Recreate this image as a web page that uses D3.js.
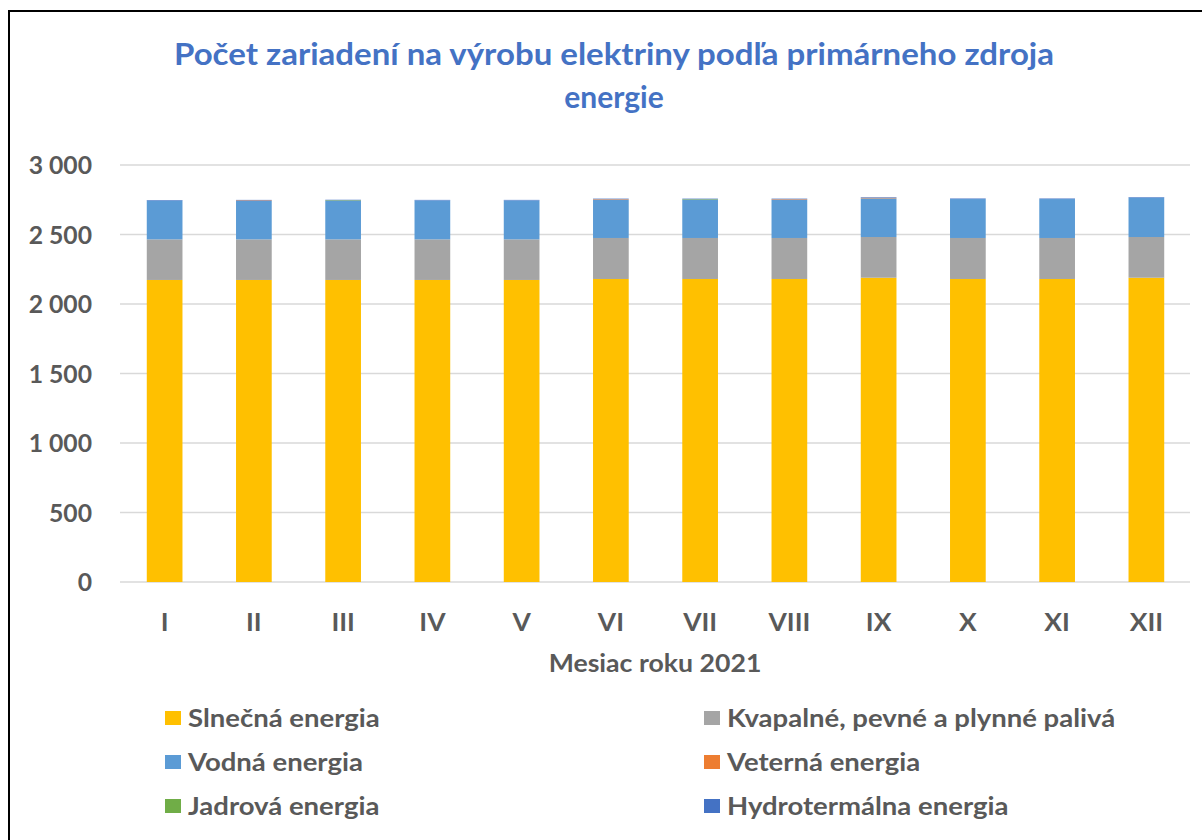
<!DOCTYPE html>
<html><head><meta charset="utf-8">
<script src="https://cdn.jsdelivr.net/npm/d3@7"></script>
<style>body{margin:0;background:#fff;}svg{display:block;}</style>
</head><body>
<svg id="c" width="1202" height="840"></svg>
<script>
const months = ["I","II","III","IV","V","VI","VII","VIII","IX","X","XI","XII"];
const seriesNames = ["Slnečná energia","Kvapalné, pevné a plynné palivá","Vodná energia","Veterná energia","Jadrová energia","Hydrotermálna energia"];
const solar = [2173,2173,2173,2173,2173,2180,2180,2180,2189,2180,2180,2189];
const fuels = [292,292,292,292,292,295,295,295,293,295,295,293];
const water = [279,276,277,280,280,275,275,275,278,280,280,283];
const wind = [0,4,0,0,0,4,0,4,4,0,0,0];
const nuclear = [0,0,4,0,0,0,4,0,0,0,0,0];
const hydrothermal = [4,4,4,4,4,4,4,4,4,4,4,4];
const yTicks = [0,500,1000,1500,2000,2500,3000];
const colors = ["#FFC000","#A5A5A5","#5B9BD5","#ED7D31","#70AD47","#4472C4"];

const svg = d3.select("#c");
const font = "Lato, 'Open Sans', sans-serif";
function stretch(sel, f){
  sel.each(function(){ const w=this.getComputedTextLength(); d3.select(this).attr("textLength", w*f).attr("lengthAdjust","spacingAndGlyphs"); });
}
svg.append("rect").attr("x",9).attr("y",11).attr("width",1210).attr("height",840).attr("fill","#fff").attr("stroke","#000").attr("stroke-width",2);

const x = d3.scaleBand().domain(months).range([120,1191]).paddingInner(0.6).paddingOuter(0.3);
const y = d3.scaleLinear().domain([0,3000]).range([582,165]);

svg.append("g").selectAll("line").data(yTicks).join("line")
  .attr("x1",120).attr("x2",1190).attr("y1",d=>y(d)).attr("y2",d=>y(d))
  .attr("stroke","#D9D9D9").attr("stroke-width",1.5);

const table = months.map((m,i)=>({m, s0:solar[i], s1:fuels[i], s2:water[i], s3:wind[i], s4:nuclear[i], s5:hydrothermal[i]}));
const stack = d3.stack().keys(["s0","s1","s2","s3","s4","s5"])(table);
svg.append("g").selectAll("g").data(stack).join("g").attr("fill",(d,i)=>colors[i])
  .selectAll("rect").data(d=>d).join("rect")
  .attr("x",d=>x(d.data.m)).attr("width",x.bandwidth())
  .attr("y",d=>y(d[1])).attr("height",d=>y(d[0])-y(d[1]));

const yAxis = svg.append("g").attr("transform","translate(100,0)")
  .call(d3.axisLeft(y).tickValues(yTicks).tickSize(0).tickFormat(d=>d3.format(",")(d).replace(/,/g," ")));
yAxis.select(".domain").remove();
yAxis.selectAll("text").attr("fill","#595959").attr("font-family",font).attr("font-weight","bold").attr("font-size","24px").attr("x",-8).attr("dy","0.36em");
stretch(yAxis.selectAll("text"),1.03);

const xAxis = svg.append("g").attr("transform","translate(0,582)")
  .call(d3.axisBottom(x).tickSize(0));
xAxis.select(".domain").remove();
xAxis.selectAll("text").attr("fill","#595959").attr("font-family",font).attr("font-weight","bold").attr("font-size","24px").attr("dy","0").attr("y",49);
stretch(xAxis.selectAll("text"),1.1);

const xt = svg.append("text").attr("x",655).attr("y",672).attr("text-anchor","middle").attr("fill","#595959")
  .attr("font-family",font).attr("font-weight","bold").attr("font-size","24px").text("Mesiac roku 2021");
stretch(xt,1.11);

const t1 = svg.append("text").attr("x",614).attr("y",65).attr("text-anchor","middle").attr("fill","#4472C4")
  .attr("font-family",font).attr("font-weight","bold").attr("font-size","30px").text("Počet zariadení na výrobu elektriny podľa primárneho zdroja");
stretch(t1,1.1);
svg.append("text").attr("x",614).attr("y",108).attr("text-anchor","middle").attr("fill","#4472C4")
  .attr("font-family",font).attr("font-weight","bold").attr("font-size","30px").text("energie");

const legPos = [[165,717],[704,717],[165,761],[704,761],[165,805],[704,805]];
const leg = svg.append("g").selectAll("g").data(seriesNames).join("g")
  .attr("transform",(d,i)=>`translate(${legPos[i][0]},${legPos[i][1]})`);
leg.append("rect").attr("x",0).attr("y",-6).attr("width",16).attr("height",14).attr("fill",(d,i)=>colors[i]);
const lt = leg.append("text").attr("x",23).attr("y",10).attr("fill","#595959").attr("font-family",font)
  .attr("font-weight","bold").attr("font-size","25px").text(d=>d);
stretch(lt,1.1);
</script>
</body></html>
